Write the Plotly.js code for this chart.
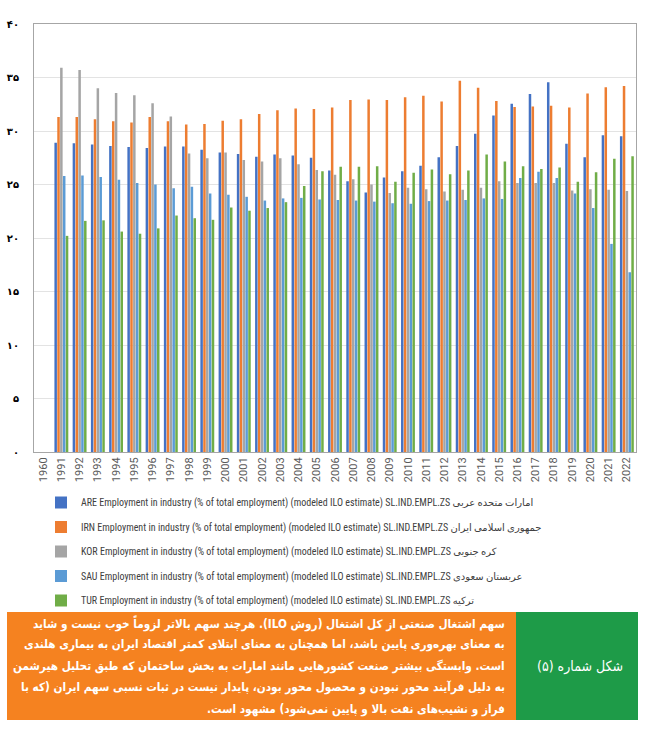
<!DOCTYPE html>
<html>
<head>
<meta charset="utf-8">
<script src="https://cdn.plot.ly/plotly-3.0.1.min.js"></script>
<style>html,body{margin:0;padding:0;background:#fff;}#chart{width:645px;height:731px;}</style>
</head>
<body>
<div id="chart"></div>
<script>
const years = ['1960','1991','1992','1993','1994','1995','1996','1997','1998','1999','2000','2001','2002','2003','2004','2005','2006','2007','2008','2009','2010','2011','2012','2013','2014','2015','2016','2017','2018','2019','2020','2021','2022'];
const codes = ['ARE','IRN','KOR','SAU','TUR'];
const persianNames = ['امارات متحده عربی','جمهوری اسلامی ایران','کره جنوبی','عربستان سعودی','ترکیه'];
const ARE = [null,28.9,28.85,28.75,28.6,28.5,28.4,28.55,28.55,28.25,28.0,27.85,27.6,27.8,27.7,27.5,26.3,25.3,24.25,25.65,26.25,26.75,27.55,28.6,29.75,31.45,32.55,33.45,34.55,28.8,27.55,29.6,29.5];
const IRN = [null,31.3,31.3,31.1,30.9,30.8,31.3,30.9,30.6,30.65,30.95,31.1,31.6,31.95,32.1,32.05,32.2,32.9,32.95,32.9,33.15,33.3,32.75,34.7,34.05,32.8,32.25,32.3,32.35,32.2,33.5,34.1,34.2];
const KOR = [null,35.9,35.7,34.0,33.55,33.35,32.6,31.35,27.9,27.45,28.0,27.3,27.15,27.45,26.9,26.35,25.9,25.5,25.0,24.2,24.7,24.55,24.35,24.5,24.7,25.3,25.15,25.15,25.15,24.45,24.55,24.5,24.4];
const SAU = [null,25.8,25.85,25.7,25.45,25.15,25.0,24.65,24.8,24.15,24.05,23.85,23.5,23.7,23.75,23.6,23.55,23.5,23.4,23.25,23.2,23.45,23.5,23.55,23.7,23.65,25.6,26.2,25.6,24.15,22.8,19.45,16.8];
const TUR = [null,20.2,21.6,21.65,20.6,20.4,20.9,22.1,21.85,21.7,22.85,22.55,22.8,23.35,24.85,26.25,26.65,26.65,26.7,25.25,26.1,26.4,25.95,26.3,27.8,27.15,26.7,26.45,26.6,25.25,26.15,27.4,27.65];
const yTickVals = [0,5,10,15,20,25,30,35,40];
const yTickText = ['۰','۵','۱۰','۱۵','۲۰','۲۵','۳۰','۳۵','۴۰'];
const figureLabel = 'شکل شماره (۵)';
const captionLines = [
  'سهم اشتغال صنعتی از کل اشتغال (روش ILO). هرچند سهم بالاتر لزوماً خوب نیست و شاید',
  'به معنای بهره‌وری پایین باشد، اما همچنان به معنای ابتلای کمتر اقتصاد ایران به بیماری هلندی',
  'است. وابستگی بیشتر صنعت کشورهایی مانند امارات به بخش ساختمان که طبق تحلیل هیرشمن',
  'به دلیل فرآیند محور نبودن و محصول محور بودن، پایدار نیست در ثبات نسبی سهم ایران (که با',
  'فراز و نشیب‌های نفت بالا و پایین نمی‌شود) مشهود است.'
];

const seriesValues = [ARE, IRN, KOR, SAU, TUR];
const colors = ['#4472C4','#ED7D31','#A5A5A5','#5B9BD5','#70AD47'];

const traces = codes.map((c, i) => ({
  type: 'bar',
  x: years,
  y: seriesValues[i],
  name: c + ' Employment in industry (% of total employment) (modeled ILO estimate) SL.IND.EMPL.ZS ' + persianNames[i],
  legendgroup: c,
  marker: {color: colors[i]},
  hoverinfo: 'x+y'
}));

const W = 645, H = 731, L = 34, R = 9, T = 24, B = 279;
const pw = W - L - R, ph = H - T - B;
const px = v => (v - L) / pw;
const py = v => (H - B - v) / ph;

const RLE = '\u202B', PDF = '\u202C';
const capFont = 'DejaVu Sans Condensed, DejaVu Sans, Noto Sans';
const capSize = 12.5;
const annotations = captionLines.map((s, i) => ({
  xref: 'paper', yref: 'paper', x: px(507), y: py(623 + i * 21.5),
  xanchor: 'right', yanchor: 'middle', showarrow: false, align: 'right',
  text: '<b>' + RLE + s + PDF + '</b>',
  font: {family: capFont, size: capSize, color: '#ffffff'}
}));
annotations.push({
  xref: 'paper', yref: 'paper', x: px(580), y: py(666),
  xanchor: 'center', yanchor: 'middle', showarrow: false,
  text: RLE + figureLabel + PDF,
  font: {family: capFont, size: 14, color: '#ffffff'}
});

const shapes = [
  {type: 'rect', xref: 'paper', yref: 'paper', x0: px(7), x1: px(516), y0: py(612), y1: py(720), fillcolor: '#F58220', line: {width: 0}, layer: 'below'},
  {type: 'rect', xref: 'paper', yref: 'paper', x0: px(516), x1: px(638), y0: py(612), y1: py(720), fillcolor: '#1E9B48', line: {width: 0}, layer: 'below'}
];

const layout = {
  width: W, height: H,
  margin: {l: L, r: R, t: T, b: B, pad: 0},
  paper_bgcolor: '#ffffff', plot_bgcolor: '#ffffff',
  barmode: 'group', bargap: 0.22, bargroupgap: 0.12,
  showlegend: true,
  legend: {
    x: px(41), y: py(488), xanchor: 'left', yanchor: 'top',
    orientation: 'v', traceorder: 'grouped', tracegroupgap: 5.5,
    font: {family: 'Liberation Sans Narrow, Roboto Condensed, Roboto, DejaVu Sans', size: 10, color: '#404040'},
    bgcolor: 'rgba(0,0,0,0)'
  },
  xaxis: {
    type: 'category', tickangle: -90,
    tickfont: {family: 'Roboto, Liberation Sans', size: 11, color: '#595959'},
    showline: true, linecolor: '#a6a6a6', linewidth: 1, mirror: true,
    showgrid: false, ticks: '', fixedrange: true
  },
  yaxis: {
    range: [0, 40], tickvals: yTickVals, ticktext: yTickText,
    tickfont: {family: 'DejaVu Sans', size: 10, color: '#000000', weight: 'bold'},
    showgrid: true, gridcolor: '#e3e3e3', gridwidth: 1,
    showline: true, linecolor: '#a6a6a6', linewidth: 1, mirror: true,
    zeroline: false, ticks: '', ticklabelstandoff: 12, fixedrange: true
  },
  shapes: shapes,
  annotations: annotations
};

Plotly.newPlot('chart', traces, layout, {displayModeBar: false, staticPlot: true}).then(gd => {
  // shrink caption font if the installed font renders it wider than the box
  const nodes = gd.querySelectorAll('.annotation-text');
  let maxW = 0;
  nodes.forEach((n, i) => { if (i < captionLines.length) maxW = Math.max(maxW, n.getBBox().width); });
  const avail = 492;
  if (maxW > avail) {
    const scale = avail / maxW;
    const upd = {};
    captionLines.forEach((s, i) => { upd['annotations[' + i + '].font.size'] = capSize * scale; });
    Plotly.relayout(gd, upd);
  }
});
</script>
</body>
</html>
